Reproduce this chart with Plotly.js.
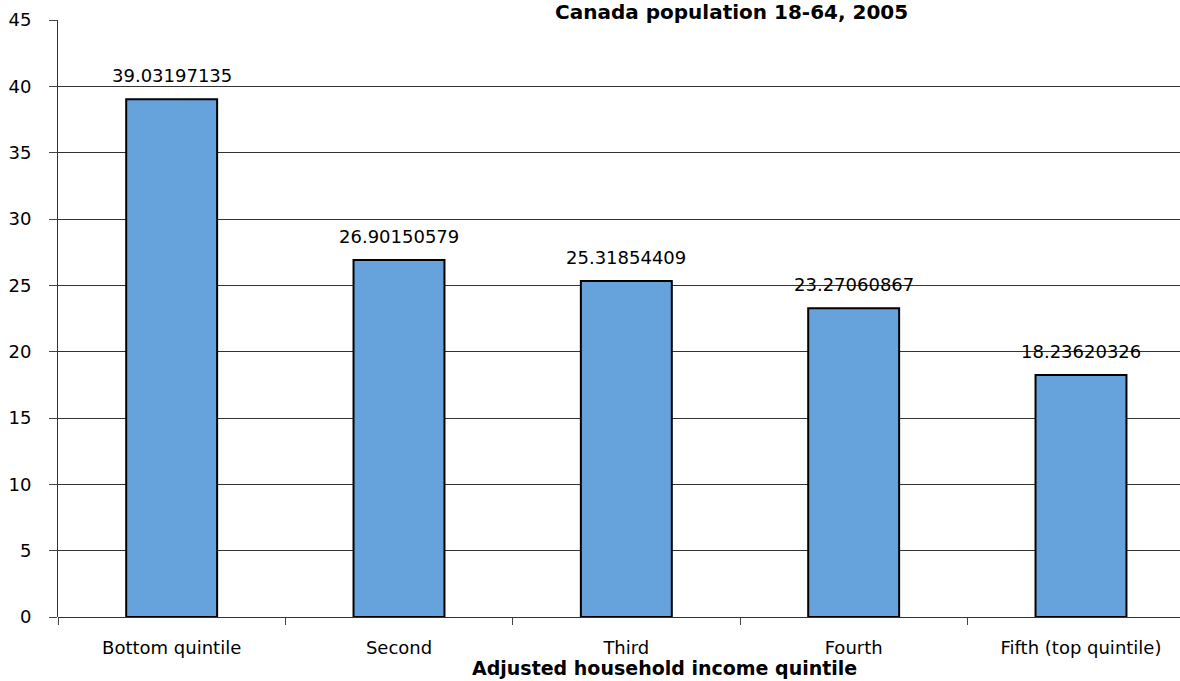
<!DOCTYPE html>
<html><head><meta charset="utf-8">
<script src="https://cdn.plot.ly/plotly-3.0.1.min.js"></script>
<style>html,body{margin:0;padding:0;background:#fff;overflow:hidden}</style>
</head><body>
<div id="chart" style="width:1180px;height:681px"></div>
<script>
const categories = ["Bottom quintile", "Second", "Third", "Fourth", "Fifth (top quintile)"];
const values = [39.03197135, 26.90150579, 25.31854409, 23.27060867, 18.23620326];
const labels = ["39.03197135", "26.90150579", "25.31854409", "23.27060867", "18.23620326"];
const yTicks = [0, 5, 10, 15, 20, 25, 30, 35, 40, 45];
const chartTitle = "Canada population 18-64, 2005";
const xTitle = "Adjusted household income quintile";

const FONT = "DejaVu Sans, Verdana, sans-serif";

const trace = {
  type: "bar",
  x: categories,
  y: values,
  width: 0.4,
  marker: {color: "#66A3DD", line: {color: "#000", width: 2}},
  hoverinfo: "none"
};

const annotations = categories.map((c, i) => ({
  x: c, y: values[i], xref: "x", yref: "y",
  text: labels[i], showarrow: false, yanchor: "bottom", yshift: 11,
  font: {family: FONT, size: 18, color: "#000"}
}));
annotations.push({
  xref: "paper", yref: "paper", x: 0.600, y: 1, yshift: 8, xanchor: "center", yanchor: "middle",
  text: "<b>" + chartTitle + "</b>", showarrow: false,
  font: {family: FONT, size: 20, color: "#000"}
});
annotations.push({
  xref: "paper", yref: "paper", x: 0.5405, y: 0, yshift: -51, xanchor: "center", yanchor: "middle",
  text: "<b>" + xTitle + "</b>", showarrow: false,
  font: {family: FONT, size: 19, color: "#000"}
});

const layout = {
  width: 1180, height: 681,
  margin: {l: 58, r: 0, t: 20, b: 64},
  paper_bgcolor: "#fff", plot_bgcolor: "#fff",
  showlegend: false,
  font: {family: FONT, size: 18, color: "#000"},
  xaxis: {
    type: "category",
    range: [-0.5, 4.4355],
    tickson: "boundaries",
    ticks: "outside", ticklen: 7, tickcolor: "#444", tickwidth: 1,
    ticklabelstandoff: 18,
    showgrid: false, showline: false, zeroline: false,
    tickfont: {family: FONT, size: 18, color: "#000"}
  },
  yaxis: {
    range: [0, 45],
    tickvals: yTicks,
    ticks: "outside", ticklen: 8, tickcolor: "#444", tickwidth: 1,
    ticklabelstandoff: 14,
    showline: true, linecolor: "#333", linewidth: 1,
    showgrid: true, gridcolor: "#333", gridwidth: 1,
    zeroline: true, zerolinecolor: "#333", zerolinewidth: 1,
    tickfont: {family: FONT, size: 18, color: "#000"}
  },
  annotations: annotations
};

Plotly.newPlot("chart", [trace], layout, {displayModeBar: false, staticPlot: true});
</script>
</body></html>
